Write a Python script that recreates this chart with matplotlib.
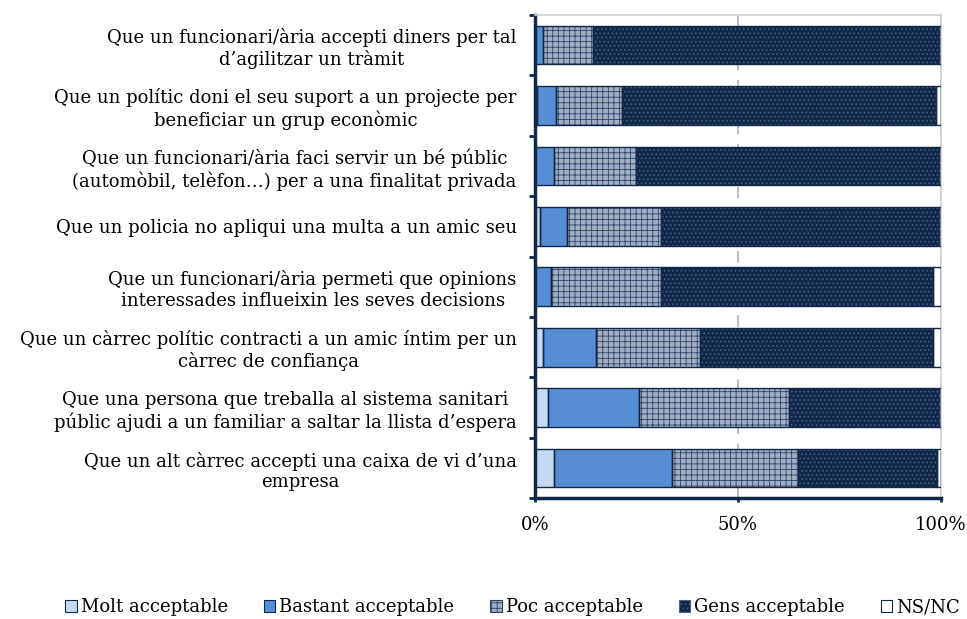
import numpy as np
import matplotlib.pyplot as plt
from matplotlib.patches import Patch

plt.rcParams["font.family"] = ["DejaVu Serif"]
plt.rcParams["hatch.linewidth"] = 0.6

categories = [
    "Que un funcionari/ària accepti diners per tal\nd’agilitzar un tràmit",
    "Que un polític doni el seu suport a un projecte per\nbeneficiar un grup econòmic",
    "Que un funcionari/ària faci servir un bé públic\n(automòbil, telèfon…) per a una finalitat privada",
    "Que un policia no apliqui una multa a un amic seu",
    "Que un funcionari/ària permeti que opinions\ninteressades influeixin les seves decisions",
    "Que un càrrec polític contracti a un amic íntim per un\ncàrrec de confiança",
    "Que una persona que treballa al sistema sanitari\npúblic ajudi a un familiar a saltar la llista d’espera",
    "Que un alt càrrec accepti una caixa de vi d’una\nempresa",
]
series_names = ["Molt acceptable", "Bastant acceptable", "Poc acceptable",
                "Gens acceptable", "NS/NC"]
molt = [0.0, 0.5, 0.0, 1.2, 0.0, 2.0, 3.3, 4.8]
bastant = [2.0, 4.8, 4.8, 6.8, 4.1, 13.0, 22.4, 29.0]
poc = [12.3, 16.1, 20.2, 23.2, 27.1, 25.6, 37.0, 31.1]
gens = [85.7, 77.4, 75.0, 68.8, 66.9, 57.5, 37.3, 34.2]
nsnc = [0.0, 1.2, 0.0, 0.0, 1.9, 1.9, 0.0, 0.9]

navy = "#12284a"
faces = ["#c6d9f0", "#558ed5", "#a3adbd", navy, "#ffffff"]
hatches = [None, None, "+++", "....", None]
hatch_cols = [None, None, "#2a4470", "#4f6282", None]

fig = plt.figure(figsize=(9.67, 6.19), dpi=100)
ax = fig.add_axes([0.553, 0.195, 0.420, 0.781])

y = np.arange(len(categories))
left = np.zeros(len(categories))
handles = []
for vals, name, fc, ht, hc in zip([molt, bastant, poc, gens, nsnc], series_names,
                                  faces, hatches, hatch_cols):
    vals = np.array(vals)
    if ht:
        ax.barh(y, vals, left=left, height=0.64, color=fc, edgecolor=hc,
                hatch=ht, linewidth=0, zorder=2)
    else:
        ax.barh(y, vals, left=left, height=0.64, color=fc, linewidth=0, zorder=2)
    ax.barh(y, vals, left=left, height=0.64, fill=False, edgecolor=navy,
            linewidth=1.0, zorder=3)
    handles.append(Patch(facecolor=fc, edgecolor=hc if ht else navy,
                         hatch=ht, linewidth=0.8))
    left += vals

ax.set_xlim(0, 100)
ax.set_ylim(len(categories) - 0.5, -0.5)
ax.set_xticks([0, 50, 100])
ax.set_xticklabels(["0%", "50%", "100%"], fontsize=13)
ax.xaxis.grid(True, linestyle=(0, (6, 5)), color="#bdbdbd", linewidth=1.4, zorder=0)
ax.set_axisbelow(True)

ax.set_yticks(y)
ax.set_yticklabels(categories, fontsize=13, multialignment="center",
                   linespacing=1.2)
ax.tick_params(axis="y", length=0, pad=13)
ax.set_yticks(np.arange(-0.5, len(categories)), minor=True)
ax.tick_params(axis="y", which="minor", length=4, width=2, color=navy)
ax.tick_params(axis="x", length=3, width=2, color=navy, pad=10)

for s in ["top", "right"]:
    ax.spines[s].set_color("#d0d0d0")
    ax.spines[s].set_linewidth(1.2)
for s in ["left", "bottom"]:
    ax.spines[s].set_color(navy)
    ax.spines[s].set_linewidth(2.5)

fig.legend(handles, series_names, loc="lower center", ncol=5, frameon=False,
           bbox_to_anchor=(0.53, -0.022), fontsize=13, handlelength=0.65,
           handleheight=0.65, handletextpad=0.2, columnspacing=2.0)

fig.savefig("out.png", dpi=100)
